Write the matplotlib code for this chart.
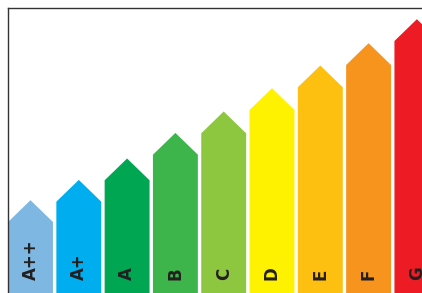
import matplotlib
matplotlib.use("Agg")
import matplotlib.pyplot as plt
from matplotlib.patches import Polygon

# Data
classes = ["A++", "A+", "A", "B", "C", "D", "E", "F", "G"]
heights = [71, 91.3, 112.7, 138.3, 159.7, 183, 205.7, 228, 252]
colors = ["#7EB7E2", "#00AEEF", "#00A651", "#3DB54A", "#8DC63F",
          "#FFF200", "#FDC010", "#F7941D", "#ED1C24"]

W, H = 422, 293
fig = plt.figure(figsize=(W / 100, H / 100), dpi=100)
left_px, top_px = 7.5, 8
ax = fig.add_axes([left_px / W, 0, 1 - left_px / W, (H - top_px) / H])

pitch = 48.3
x0c = 30.5
xmin = (left_px - x0c) / pitch
xmax = (W - x0c) / pitch
ax.set_xlim(xmin, xmax)
ax.set_ylim(0, H - top_px)

bw = 0.93
# roof height in data units so that the roof is at 45 degrees
roof = bw * pitch / 2 * 0.97

for i, (lab, h, c) in enumerate(zip(classes, heights, colors)):
    verts = [(i - bw / 2, 0), (i - bw / 2, h), (i, h + roof),
             (i + bw / 2, h), (i + bw / 2, 0)]
    ax.add_patch(Polygon(verts, closed=True, facecolor=c, edgecolor="none"))
    ax.text(i, 13, lab, rotation=90, ha="center", va="bottom",
            fontsize=12, fontweight="bold", color="#231F20",
            family="DejaVu Sans")

for s in ["right", "bottom"]:
    ax.spines[s].set_visible(False)
for s in ["left", "top"]:
    ax.spines[s].set_color("#333333")
    ax.spines[s].set_linewidth(1.0)
ax.set_xticks([])
ax.set_yticks([])

fig.savefig("out.png", dpi=100)
